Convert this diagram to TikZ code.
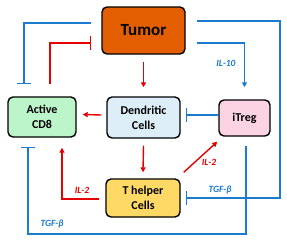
\documentclass[tikz,border=0pt]{standalone}
\usepackage{fontspec}
\setmainfont{Carlito}
\usetikzlibrary{arrows.meta}
\definecolor{tumorc}{HTML}{E25E00}
\definecolor{cdc}{HTML}{BDF5CB}
\definecolor{dcc}{HTML}{DDEEF8}
\definecolor{tregc}{HTML}{FBD3E3}
\definecolor{thc}{HTML}{FFD966}
\definecolor{lblue}{HTML}{1A7BCF}
\definecolor{lred}{HTML}{E60000}
\tikzset{
  box/.style={draw=black, line width=1.4pt, rounded corners=5pt, align=center,
    inner sep=0pt, font=\bfseries\fontsize{12}{15}\selectfont},
  bl/.style={draw=lblue, line width=1.6pt},
  rd/.style={draw=lred, line width=1.4pt},
  arr/.style={-{Triangle[length=5pt,width=5pt]}},
  tee/.style={-{Bar[width=14pt,line width=1.6pt]}},
  lbl/.style={font=\bfseries\itshape\fontsize{9.5}{10}\selectfont, inner sep=0pt},
}
\begin{document}
\begin{tikzpicture}[x=1pt,y=-1pt]
\useasboundingbox (0,0) rectangle (287,241);
\node[box, fill=tumorc, minimum width=83pt, minimum height=47pt, font=\bfseries\fontsize{17}{20}\selectfont] (tumor) at (143.5,30.5) {Tumor};
\node[box, fill=cdc, minimum width=68pt, minimum height=40pt] (cd8) at (42,117) {Active\\CD8};
\node[box, fill=dcc, minimum width=73pt, minimum height=41pt] (dc) at (143.5,117.5) {Dendritic\\Cells};
\node[box, fill=tregc, minimum width=51pt, minimum height=36pt] (itreg) at (244.5,118) {iTreg};
\node[box, fill=thc, minimum width=74pt, minimum height=38pt] (th) at (143,198) {T helper\\Cells};

% Tumor -> CD8 inhibition (blue)
\draw[bl, tee] ([xshift=-10pt,yshift=7.5pt]tumor.west) -| ([xshift=-18pt,yshift=12pt]cd8.north);
% CD8 -| Tumor (red)
\draw[rd, tee] ([xshift=8pt,yshift=12pt]cd8.north) |- ([xshift=-10pt,yshift=-12.5pt]tumor.west);
% Tumor -| T helper (blue, TGF-beta)
\draw[bl, tee] ([xshift=11pt,yshift=9.5pt]tumor.east) -| ([xshift=99pt]th.east) -- ([xshift=5pt]th.east);
% Tumor -> iTreg (IL-10)
\draw[bl, arr] ([xshift=11pt,yshift=-12.5pt]tumor.east) -| ([yshift=12pt]itreg.north);
% Tumor -> DC
\draw[rd, arr] ([yshift=-7pt]tumor.south) -- ([yshift=9pt]dc.north);
% DC -> CD8
\draw[rd, arr] ([xshift=-5pt,yshift=2.5pt]dc.west) -- ([xshift=6pt,yshift=2.5pt]cd8.east);
% iTreg -| DC
\draw[bl, tee] ([yshift=3pt]itreg.west) -- ([xshift=5pt,yshift=2.5pt]dc.east);
% DC -> T helper
\draw[rd, arr] ([yshift=-7pt]dc.south) -- ([yshift=6pt]th.north);
% T helper -> iTreg (IL-2)
\draw[rd, arr] ([xshift=3pt,yshift=6pt]th.north east) -- ([xshift=-1pt,yshift=-5pt]itreg.south west);
% T helper -> CD8 (IL-2)
\draw[rd, arr] ([xshift=-6pt,yshift=-1pt]th.west) -| ([xshift=20pt,yshift=-10pt]cd8.south);
% iTreg -| CD8 (TGF-beta)
\draw[bl, tee] ([xshift=1.5pt,yshift=-9pt]itreg.south) -- ++(0,88) -| ([xshift=-14pt,yshift=-9pt]cd8.south);

\node[lbl, text=lblue] (l1) at (226,63) {IL-10};
\node[lbl, text=lred] (l2) at (209,162) {IL-2};
\node[lbl, text=lred] (l3) at (82,190) {IL-2};
\node[lbl, text=lblue] (l4) at (220,190) {TGF-β};
\node[lbl, text=lblue] (l5) at (52,224) {TGF-β};
\end{tikzpicture}
\end{document}
